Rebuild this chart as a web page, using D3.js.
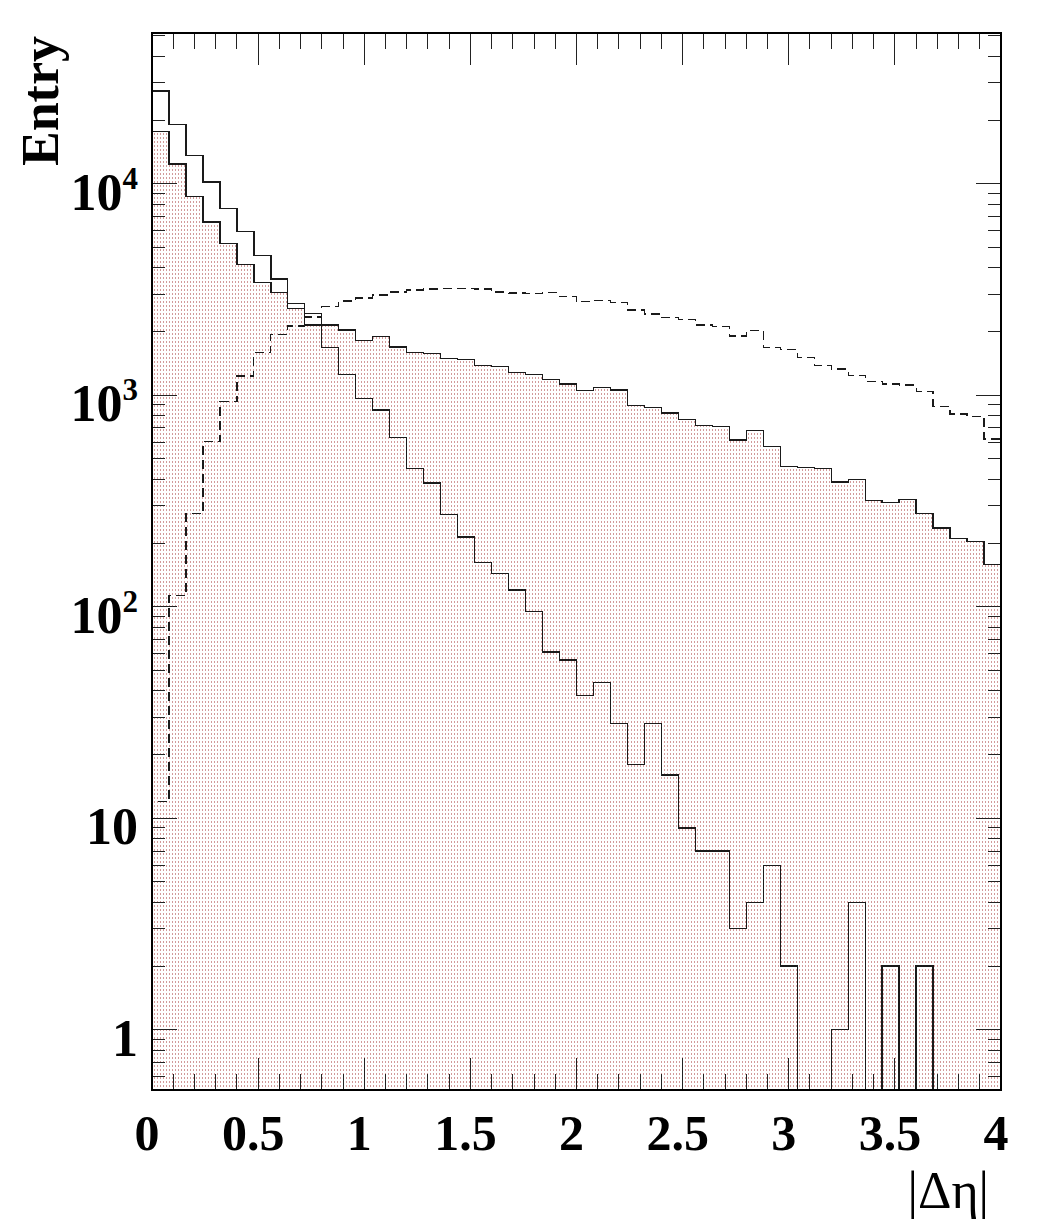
<!DOCTYPE html>
<html>
<head>
<meta charset="utf-8">
<script src="https://cdn.jsdelivr.net/npm/d3@7"></script>
<style>
  body { margin: 0; background: #fff; }
  svg { display: block; }
  text { font-family: "Liberation Serif", "Times New Roman", serif; fill: #000; }
</style>
</head>
<body>
<div id="chart"></div>
<script>
// binning of |delta eta|
const nBins = 50;
const xLow = 0;
const xHigh = 4;

// steep solid histogram (unfilled)
const steepCounts = [27400, 19100, 13600, 10200, 7650, 5930, 4580, 3550, 2720, 2440,
  1680, 1256, 967, 851, 629, 451, 385, 272, 214, 162,
  144, 120, 95, 61, 56, 38, 44, 28, 18, 28,
  16, 9, 7, 7, 3, 4, 6, 2, 0, 0,
  1, 4, 0, 2, 0, 2, 0, 0, 0, 0];

// filled (dotted pink) histogram
const filledCounts = [17600, 12400, 8710, 6600, 5220, 4150, 3420, 3070, 2580, 2150,
  2150, 2034, 1820, 1890, 1690, 1590, 1580, 1494, 1470, 1380,
  1364, 1283, 1255, 1189, 1130, 1055, 1089, 1058, 892, 873,
  824, 769, 720, 710, 614, 679, 573, 459, 454, 449,
  389, 400, 317, 310, 322, 275, 236, 210, 204, 158];

// dashed histogram
const dashedCounts = [12, 113, 275, 603, 931, 1233, 1588, 1942, 2125, 2342,
  2620, 2788, 2881, 2978, 3076, 3143, 3177, 3194, 3194, 3177,
  3075, 3043, 3020, 3054, 2924, 2768, 2800, 2748, 2527, 2420,
  2328, 2287, 2148, 2110, 1905, 2018, 1686, 1650, 1511, 1380,
  1331, 1237, 1158, 1130, 1118, 1043, 883, 815, 791, 621];

const xMajorTicks = [0, 0.5, 1, 1.5, 2, 2.5, 3, 3.5, 4];
const xTickLabels = ["0", "0.5", "1", "1.5", "2", "2.5", "3", "3.5", "4"];
const yMajorTicks = [1, 10, 100, 1000, 10000];
const yTickBase = ["1", "10", "10", "10", "10"];
const yTickExp = ["", "", "2", "3", "4"];

const xTitle = "|\u0394\u03b7|";
const yTitle = "Entry";

const width = 1061, height = 1231;
const margin = { top: 33, right: 60, bottom: 141, left: 152 };
const yMin = 0.519, yMax = 51600;

const binWidth = (xHigh - xLow) / nBins;
const edges = d3.range(nBins + 1).map(i => xLow + i * binWidth);

const svg = d3.select("#chart")
    .append("svg")
    .attr("width", width)
    .attr("height", height);

const x = d3.scaleLinear().domain([xLow, xHigh]).range([margin.left, width - margin.right]);
const y = d3.scaleLog().domain([yMin, yMax]).range([height - margin.bottom, margin.top]);

// dotted fill pattern
const pat = svg.append("defs").append("pattern")
    .attr("id", "dots")
    .attr("patternUnits", "userSpaceOnUse")
    .attr("width", 3)
    .attr("height", 4);
pat.append("rect").attr("width", 3).attr("height", 4).attr("fill", "#fff");
pat.append("rect").attr("x", 1).attr("y", 1).attr("width", 1).attr("height", 2).attr("fill", "#d29a9a");

function steps(counts) {
    const pts = [[edges[0], yMin]];
    counts.forEach((c, i) => {
        pts.push([edges[i], c]);
        pts.push([edges[i + 1], c]);
    });
    pts.push([edges[nBins], yMin]);
    return pts;
}

const line = d3.line()
    .x(d => x(d[0]))
    .y(d => y(Math.max(d[1], yMin)));

const area = d3.area()
    .x(d => x(d[0]))
    .y0(y(yMin))
    .y1(d => y(Math.max(d[1], yMin)));

svg.append("path")
    .datum(steps(filledCounts))
    .attr("d", area)
    .attr("fill", "url(#dots)");

svg.append("path")
    .datum(steps(filledCounts))
    .attr("d", line)
    .attr("fill", "none")
    .attr("stroke", "#1a1a1a")
    .attr("stroke-width", 1.3)
    .attr("shape-rendering", "crispEdges");

svg.append("path")
    .datum(steps(steepCounts))
    .attr("d", line)
    .attr("fill", "none")
    .attr("stroke", "#1a1a1a")
    .attr("stroke-width", 1.3)
    .attr("shape-rendering", "crispEdges");

svg.append("path")
    .datum(steps(dashedCounts))
    .attr("d", line)
    .attr("fill", "none")
    .attr("stroke", "#1a1a1a")
    .attr("stroke-width", 1.2)
    .attr("stroke-dasharray", "9,5")
    .attr("shape-rendering", "crispEdges");

// ticks (ROOT style, inside, on all four sides)
const x0 = x.range()[0], x1 = x.range()[1];
const yb = y.range()[0], yt = y.range()[1];
const plotW = x1 - x0, plotH = yb - yt;
const xTickLen = 0.03 * plotH, yTickLen = 0.03 * plotW;

const xMinorTicks = d3.range(0, 41).map(i => i / 10);
const yMinorTicks = [];
[0.1, 1, 10, 100, 1000, 10000].forEach(dec => {
    for (let k = 2; k <= 9; k++) {
        const v = k * dec;
        if (v > yMin && v < yMax) yMinorTicks.push(v);
    }
});

const ticks = svg.append("g")
    .attr("stroke", "#222")
    .attr("stroke-width", 1)
    .attr("shape-rendering", "crispEdges");

function xTick(v, len) {
    ticks.append("line").attr("x1", x(v)).attr("x2", x(v)).attr("y1", yb).attr("y2", yb - len);
    ticks.append("line").attr("x1", x(v)).attr("x2", x(v)).attr("y1", yt).attr("y2", yt + len);
}
function yTick(v, len) {
    ticks.append("line").attr("y1", y(v)).attr("y2", y(v)).attr("x1", x0).attr("x2", x0 + len);
    ticks.append("line").attr("y1", y(v)).attr("y2", y(v)).attr("x1", x1).attr("x2", x1 - len);
}
xMinorTicks.forEach(v => xTick(v, xTickLen / 2));
xMajorTicks.forEach(v => xTick(v, xTickLen));
yMinorTicks.forEach(v => yTick(v, yTickLen / 2));
yMajorTicks.forEach(v => yTick(v, yTickLen));

// frame
svg.append("rect")
    .attr("x", x0).attr("y", yt)
    .attr("width", plotW).attr("height", plotH)
    .attr("fill", "none")
    .attr("stroke", "#000")
    .attr("stroke-width", 2);

// x tick labels
svg.append("g").selectAll("text")
    .data(xMajorTicks)
    .join("text")
    .attr("x", d => x(d) - 5)
    .attr("y", yb + 60)
    .attr("text-anchor", "middle")
    .attr("font-size", 50)
    .attr("font-weight", "bold")
    .text((d, i) => xTickLabels[i]);

// y tick labels
const yl = svg.append("g").selectAll("text")
    .data(yMajorTicks)
    .join("text")
    .attr("x", x0 - 14)
    .attr("y", d => y(d) + 26)
    .attr("text-anchor", "end")
    .attr("font-size", 52)
    .attr("font-weight", "bold");
yl.append("tspan").text((d, i) => yTickBase[i]);
yl.filter((d, i) => yTickExp[i] !== "")
    .append("tspan")
    .attr("dy", -21)
    .attr("font-size", 31)
    .text(d => yTickExp[yMajorTicks.indexOf(d)]);

// axis titles
svg.append("text")
    .attr("transform", `translate(58,${yt + 3}) rotate(-90)`)
    .attr("text-anchor", "end")
    .attr("font-size", 52)
    .attr("font-weight", "bold")
    .text(yTitle);

svg.append("text")
    .attr("x", x1 - 12)
    .attr("y", yb + 118)
    .attr("text-anchor", "end")
    .attr("font-size", 52)
    .text(xTitle);
</script>
</body>
</html>
